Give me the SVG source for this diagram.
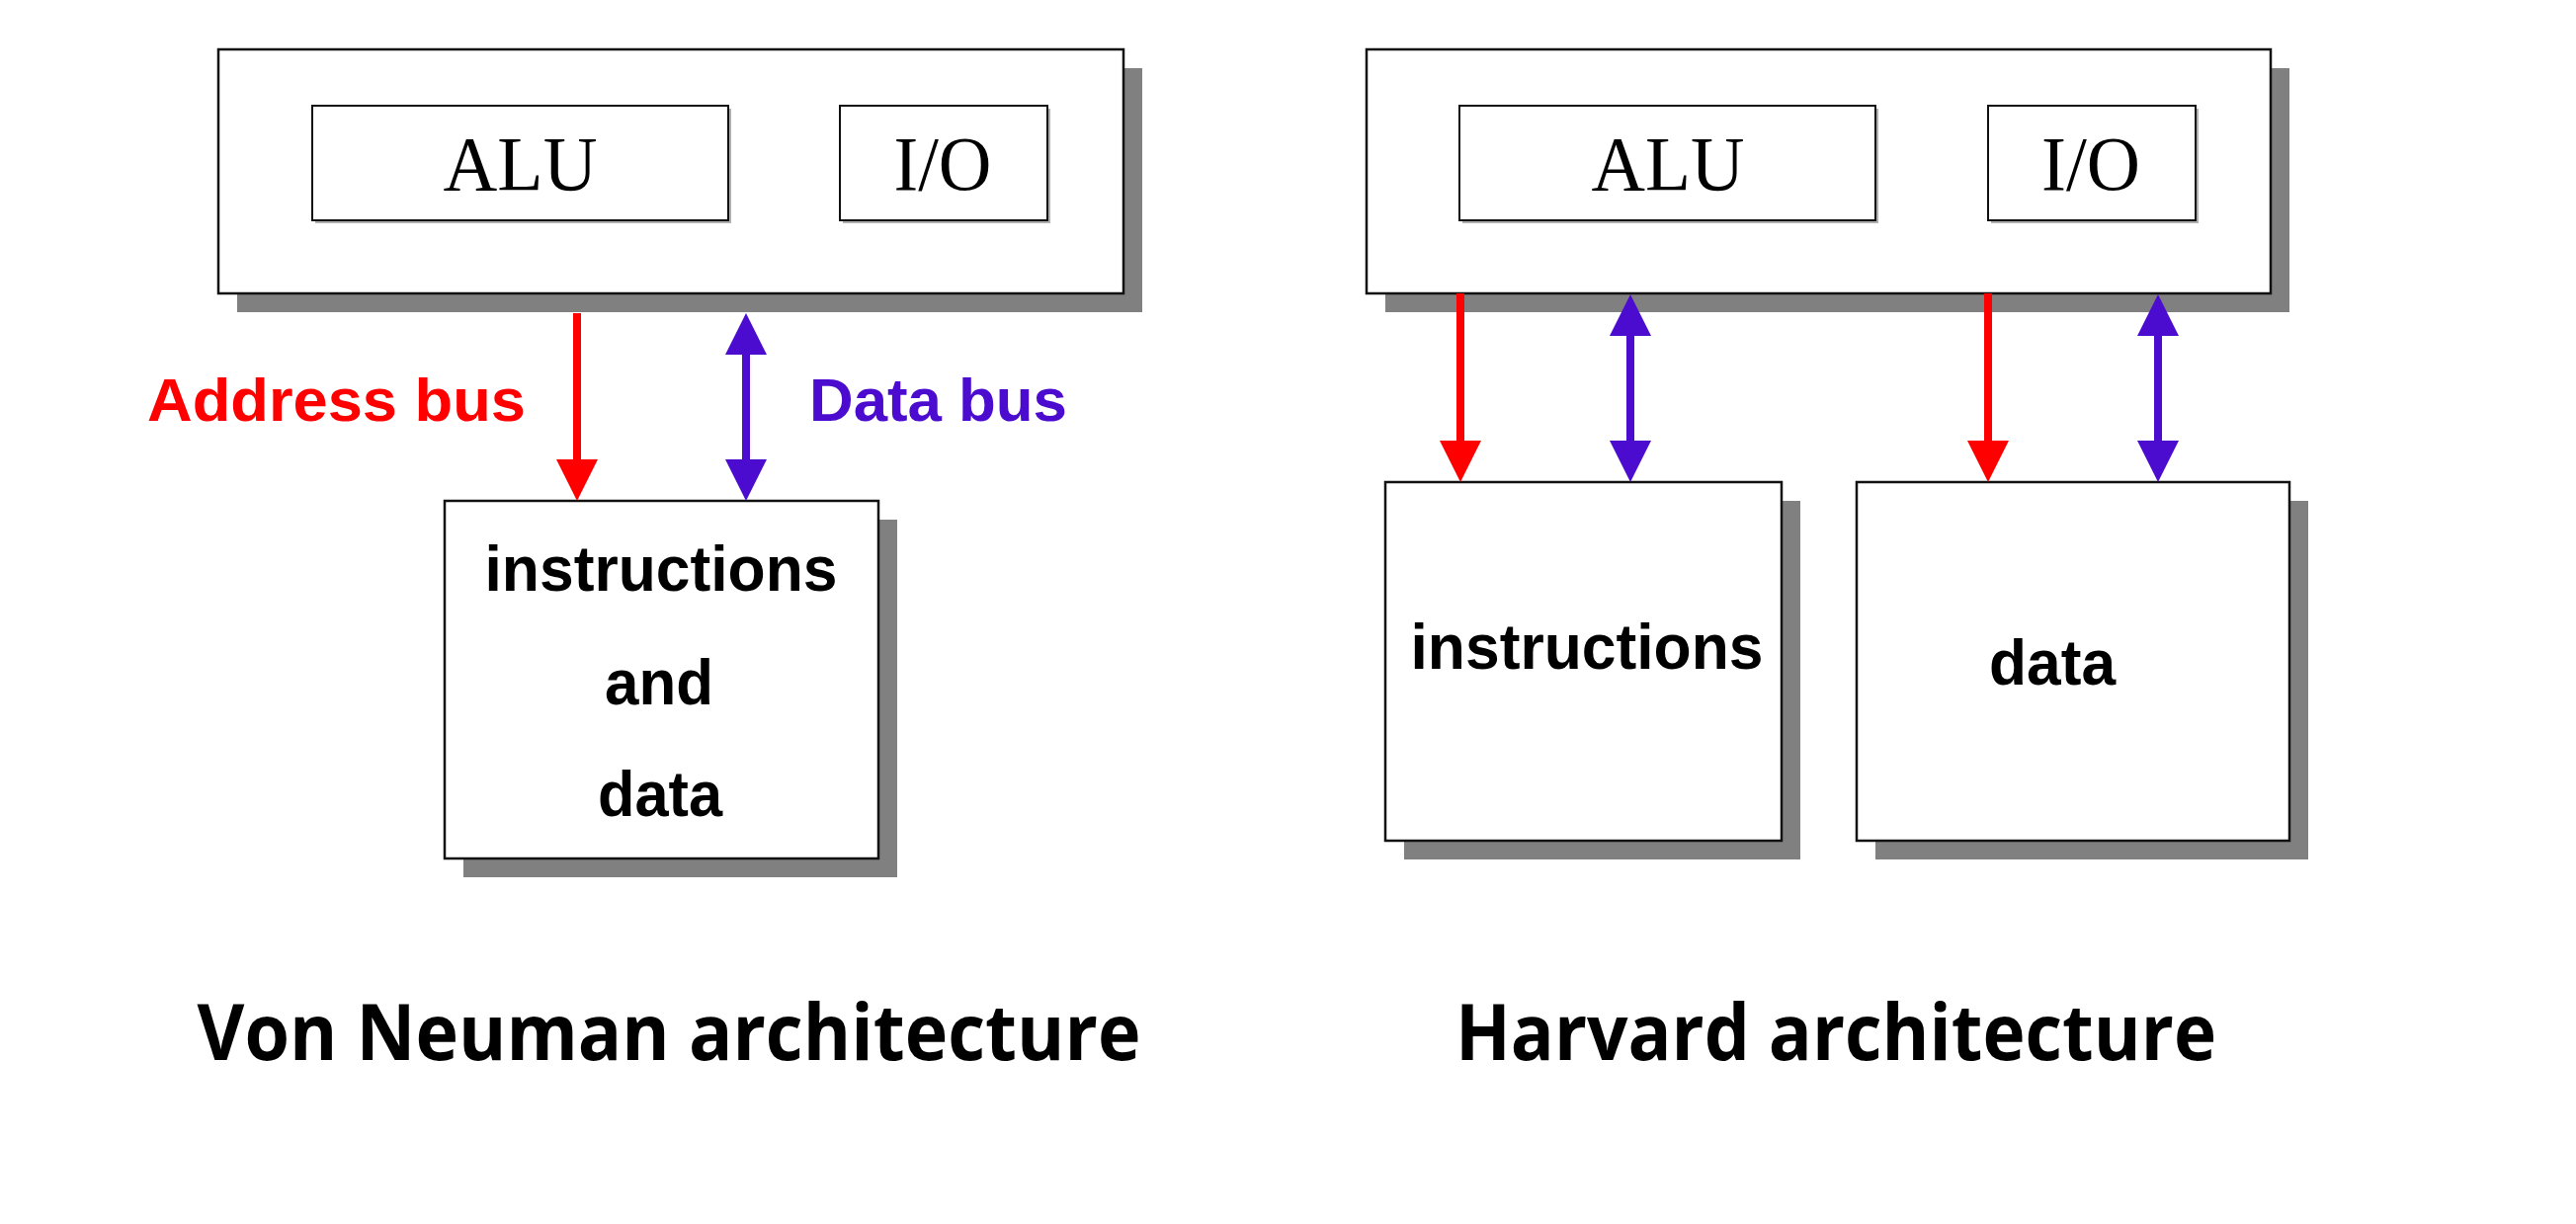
<svg xmlns="http://www.w3.org/2000/svg" width="2607" height="1239" viewBox="0 0 2607 1239">
  <style>
    .shadow { fill: #808080; }
    .box { fill: #ffffff; stroke: #111111; stroke-width: 2.5; }
    .ibox { fill: #ffffff; stroke: #111111; stroke-width: 2; }
    .ishadow { fill: #b0b0b0; }
    .serif { font-family: "Liberation Serif", "Times New Roman", serif; font-size: 78px; fill: #000; }
    .lbl { font-family: "Liberation Sans", Arial, Helvetica, sans-serif; font-weight: bold; font-size: 64px; fill: #000; }
    .bus { font-family: "Liberation Sans", Arial, Helvetica, sans-serif; font-weight: bold; font-size: 62px; }
    .title { font-family: "Open Sans", "Noto Sans", sans-serif; font-weight: 700; font-size: 78px; fill: #000; }
    .red { stroke: #ff0000; stroke-width: 8; fill: none; }
    .pur { stroke: #4c0ccf; stroke-width: 8; fill: none; }
  </style>
  <defs>
    <marker id="hr" markerUnits="userSpaceOnUse" markerWidth="44" markerHeight="42" refX="0" refY="21" orient="auto-start-reverse" viewBox="0 0 44 42">
      <path d="M0,0 L42,21 L0,42 Z" fill="#ff0000"/>
    </marker>
    <marker id="hp" markerUnits="userSpaceOnUse" markerWidth="44" markerHeight="42" refX="0" refY="21" orient="auto-start-reverse" viewBox="0 0 44 42">
      <path d="M0,0 L42,21 L0,42 Z" fill="#4c0ccf"/>
    </marker>
  </defs>
  <rect width="2607" height="1239" fill="#ffffff"/>

  <!-- Von Neumann CPU -->
  <g id="vn-cpu">
    <rect class="shadow" x="240" y="69" width="916" height="247"/>
    <rect class="box" x="221" y="50" width="916" height="247"/>
  </g>
  <g id="vn-alu">
    <rect class="ishadow" x="319" y="110" width="421" height="116"/>
    <rect class="ibox" x="316" y="107" width="421" height="116"/>
    <text class="serif" x="526.5" y="192" text-anchor="middle" textLength="156" lengthAdjust="spacingAndGlyphs">ALU</text>
  </g>
  <g id="vn-io">
    <rect class="ishadow" x="853" y="110" width="210" height="116"/>
    <rect class="ibox" x="850" y="107" width="210" height="116"/>
    <text class="serif" x="954" y="192" text-anchor="middle" textLength="99" lengthAdjust="spacingAndGlyphs">I/O</text>
  </g>
  <g id="vn-mem">
    <rect class="shadow" x="469" y="526" width="439" height="362"/>
    <rect class="box" x="450" y="507" width="439" height="362"/>
    <text class="lbl" x="669" y="598" text-anchor="middle" textLength="357" lengthAdjust="spacingAndGlyphs">instructions</text>
    <text class="lbl" x="667" y="713" text-anchor="middle" textLength="110" lengthAdjust="spacingAndGlyphs">and</text>
    <text class="lbl" x="668" y="826" text-anchor="middle" textLength="126" lengthAdjust="spacingAndGlyphs">data</text>
  </g>

  <!-- Harvard CPU -->
  <g id="hv-cpu">
    <rect class="shadow" x="1402" y="69" width="915" height="247"/>
    <rect class="box" x="1383" y="50" width="915" height="247"/>
  </g>
  <g id="hv-alu">
    <rect class="ishadow" x="1480" y="110" width="421" height="116"/>
    <rect class="ibox" x="1477" y="107" width="421" height="116"/>
    <text class="serif" x="1688" y="192" text-anchor="middle" textLength="155" lengthAdjust="spacingAndGlyphs">ALU</text>
  </g>
  <g id="hv-io">
    <rect class="ishadow" x="2015" y="110" width="210" height="116"/>
    <rect class="ibox" x="2012" y="107" width="210" height="116"/>
    <text class="serif" x="2116" y="192" text-anchor="middle" textLength="100" lengthAdjust="spacingAndGlyphs">I/O</text>
  </g>
  <g id="hv-instr">
    <rect class="shadow" x="1421" y="507" width="401" height="363"/>
    <rect class="box" x="1402" y="488" width="401" height="363"/>
    <text class="lbl" x="1606" y="677" text-anchor="middle" textLength="357" lengthAdjust="spacingAndGlyphs">instructions</text>
  </g>
  <g id="hv-data">
    <rect class="shadow" x="1898" y="507" width="438" height="363"/>
    <rect class="box" x="1879" y="488" width="438" height="363"/>
    <text class="lbl" x="2077" y="693" text-anchor="middle" textLength="128" lengthAdjust="spacingAndGlyphs">data</text>
  </g>

  <!-- Connectors -->
  <g id="connectors">
    <line class="red" x1="584" y1="317" x2="584" y2="465" marker-end="url(#hr)"/>
    <line class="pur" x1="755" y1="359" x2="755" y2="465" marker-start="url(#hp)" marker-end="url(#hp)"/>
    <line class="red" x1="1478" y1="297" x2="1478" y2="446" marker-end="url(#hr)"/>
    <line class="pur" x1="1650" y1="340" x2="1650" y2="446" marker-start="url(#hp)" marker-end="url(#hp)"/>
    <line class="red" x1="2012" y1="297" x2="2012" y2="446" marker-end="url(#hr)"/>
    <line class="pur" x1="2184" y1="340" x2="2184" y2="446" marker-start="url(#hp)" marker-end="url(#hp)"/>
  </g>

  <!-- Bus labels -->
  <g id="bus-labels">
    <text class="bus" x="340.5" y="426" fill="#ff0000" text-anchor="middle" textLength="383" lengthAdjust="spacingAndGlyphs">Address bus</text>
    <text class="bus" x="949.5" y="426" fill="#4c0ccf" text-anchor="middle" textLength="261" lengthAdjust="spacingAndGlyphs">Data bus</text>
  </g>

  <!-- Titles -->
  <g id="titles">
    <text class="title" x="677" y="1073" text-anchor="middle" textLength="955" lengthAdjust="spacingAndGlyphs">Von Neuman architecture</text>
    <text class="title" x="1858" y="1073" text-anchor="middle" textLength="770" lengthAdjust="spacingAndGlyphs">Harvard architecture</text>
  </g>
</svg>
